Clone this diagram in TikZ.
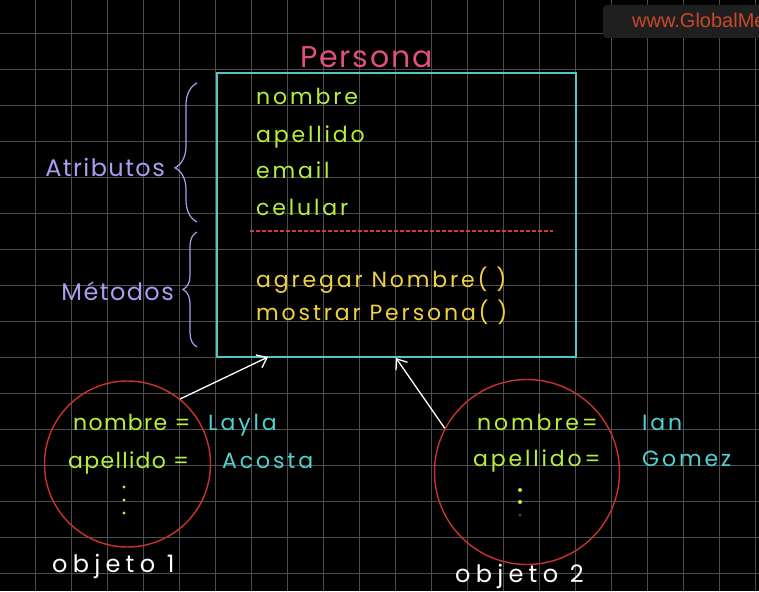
\documentclass[tikz,border=0pt]{standalone}
\usepackage{fontspec}
\setmainfont[LetterSpace=6]{Poppins}
\newfontfamily\widefont[LetterSpace=13]{Poppins}
\newfontfamily\objfont[LetterSpace=22]{Poppins}
\newfontfamily\wmfont{Liberation Sans}
\usetikzlibrary{arrows.meta,positioning,decorations.pathreplacing}
\definecolor{boxcyan}{RGB}{80,200,200}
\definecolor{titlepink}{RGB}{224,80,126}
\definecolor{attrgreen}{RGB}{180,240,60}
\definecolor{methyellow}{RGB}{240,210,60}
\definecolor{lavender}{RGB}{169,159,240}
\definecolor{objred}{RGB}{200,50,50}
\definecolor{sepred}{RGB}{215,60,60}
\definecolor{valcyan}{RGB}{80,208,208}
\definecolor{gridgray}{RGB}{78,78,78}
\definecolor{wmred}{RGB}{200,72,42}
\newcommand{\txt}[1]{\fontsize{#1}{#1}\selectfont}

\begin{document}
\begin{tikzpicture}[x=1pt, y=-1pt,
  gridline/.style={draw=gridgray, line width=0.8pt},
  attr/.style={anchor=base west, inner sep=0pt, text=attrgreen, font=\widefont\txt{22}},
  attrnarrow/.style={anchor=base west, inner sep=0pt, text=attrgreen, font=\txt{22}},
  meth/.style={anchor=base west, inner sep=0pt, text=methyellow, font=\widefont\txt{22}},
  val/.style={anchor=base west, inner sep=0pt, text=valcyan, font=\widefont\txt{22}},
  side/.style={anchor=base east, inner sep=0pt, text=lavender, font=\txt{24}},
  lbl/.style={anchor=base west, inner sep=0pt, text=white, font=\objfont\txt{24}},
  obj/.style={circle, draw=objred, line width=1.4pt, inner sep=0pt},
  clsbox/.style={rectangle, draw=boxcyan, line width=1.4pt, minimum width=359pt, minimum height=284pt, inner sep=0pt},
  brc/.style={decorate, draw=lavender, line width=1.2pt},
  arr/.style={-{Straight Barb[length=9pt, width=14pt]}, white, line width=1.3pt}
]
\clip (0,0) rectangle (759,591);
\fill[black] (0,0) rectangle (759,591);
% grid
\foreach \gx in {35,71,...,755} \draw[gridline] (\gx,0) -- (\gx,591);
\foreach \gy in {33,69,...,591} \draw[gridline] (0,\gy) -- (759,\gy);
% watermark
\fill[black!88!white, rounded corners=4pt] (603,5) rectangle (775,38);
\node[anchor=base west, inner sep=0pt, text=wmred, font=\wmfont\txt{20}] (wm) at (632,28) {www.GlobalMe};
% class
\node[clsbox] (clase) at (396.5,215) {};
\node[anchor=base west, inner sep=0pt, text=titlepink, font=\txt{30}] (persona) at (300,68) {Persona};
\node[attr] (nombre) at (256,105) {nombre};
\node[attr] (apellido) at (256,142) {apellido};
\node[attr] (email) at (256,178) {email};
\node[attr] (celular) at (256,215) {celular};
\draw[sepred, line width=1.2pt, dash pattern=on 4pt off 2pt] (250,231) -- (553,231);
\node[meth] (agregar) at (256,287) {agregar Nombre( )};
\node[meth] (mostrar) at (256,320) {mostrar Persona( )};
% braces
\draw[brc, decoration={brace, amplitude=22pt, aspect=0.39}] (197,222) -- (197,83);
\draw[brc, decoration={brace, amplitude=14pt, aspect=0.5}] (197,347) -- (197,232);
\node[side] (atributos) at (165,176) {Atributos};
\node[side] (metodos) at (174,300) {Métodos};
% objects
\node[obj, minimum size=166pt] (obj1) at (127.5,464) {};
\node[obj, minimum size=185pt] (obj2) at (527,472) {};
\node[attrnarrow] (nombre1) at (73,430) {nombre =};
\node[attrnarrow] (apellido1) at (68,468) {apellido =};
\node[val] (layla) at (208,430) {Layla};
\node[val] (acosta) at (222,468) {Acosta};
\foreach \dy in {487,500,513} \fill[attrgreen] (124,\dy) circle (1.6pt);
\node[attr] (nombre2) at (477,430) {nombre=};
\node[attr] (apellido2) at (473,466) {apellido=};
\node[val] (ian) at (642,430) {Ian};
\node[val] (gomez) at (642,466) {Gomez};
\fill[attrgreen] (520,490) circle (2pt);
\fill[attrgreen] (520,502) circle (2pt);
\fill[attrgreen!35!black] (520,515) circle (1.6pt);
\node[lbl] (objeto1) at (52,572) {objeto 1};
\node[lbl] (objeto2) at (455,582) {objeto 2};
% instance arrows
\coordinate (tip1) at (268,357);
\coordinate (tip2) at (396,358);
\draw[arr] (obj1.51) -- (tip1);
\draw[arr] (obj2.152) -- (tip2);
\end{tikzpicture}
\end{document}
